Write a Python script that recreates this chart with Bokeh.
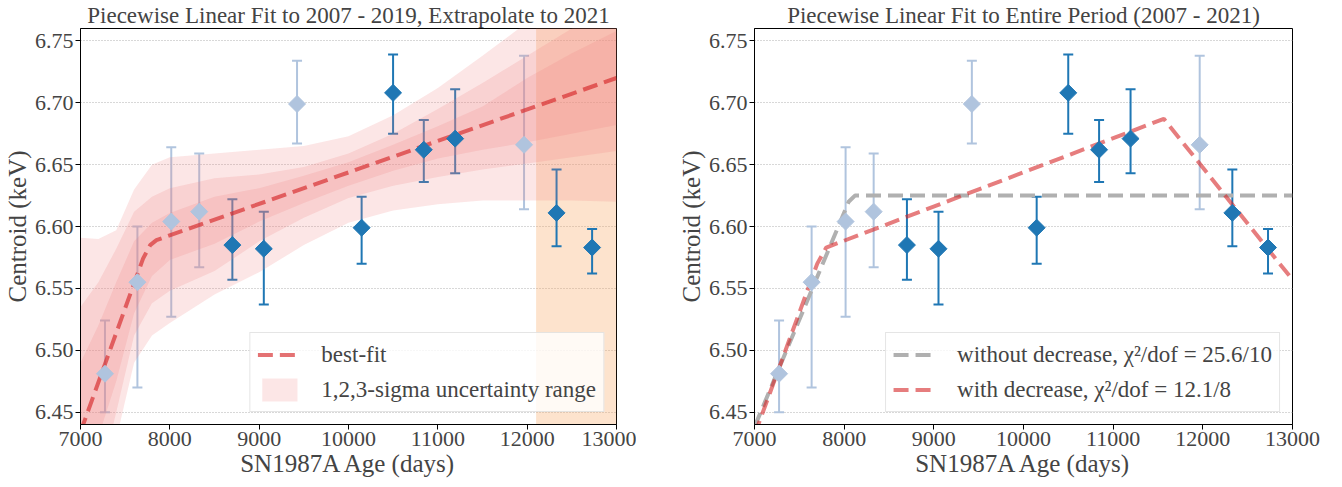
import numpy as np
from bokeh.plotting import figure
from bokeh.layouts import row
from bokeh.models import (ColumnDataSource, Whisker, BoxAnnotation, Legend, LegendItem,
                          FixedTicker, Range1d, NumeralTickFormatter, TeeHead)
from bokeh.embed import file_html
from bokeh.resources import INLINE

# ---------------- data ----------------
dark_age = [8700, 9052, 10147, 10499, 10843, 11194, 12329, 12727]
dark_cen = [6.585, 6.582, 6.599, 6.708, 6.662, 6.671, 6.611, 6.583]
dark_lo = [6.557, 6.537, 6.570, 6.675, 6.636, 6.643, 6.584, 6.562]
dark_hi = [6.622, 6.612, 6.624, 6.739, 6.686, 6.711, 6.646, 6.598]

light_age = [7274, 7637, 8016, 8329, 9424, 11965]
light_cen = [6.481, 6.555, 6.604, 6.612, 6.699, 6.666]
light_lo = [6.450, 6.470, 6.527, 6.567, 6.667, 6.614]
light_hi = [6.524, 6.600, 6.664, 6.659, 6.734, 6.738]

# left panel: best fit and 1,2,3-sigma bands
fit_age = [7000, 7700, 7780, 7850, 13000]
fit_cen = [6.434, 6.574, 6.585, 6.589, 6.720]

band_age = [7000, 7200, 7400, 7600, 7800, 8000, 8500, 9000, 9500, 10000, 10500, 11000, 11500, 12000, 12500, 13000]
band_lo3 = [6.29, 6.36, 6.428, 6.490, 6.512, 6.522, 6.545, 6.563, 6.585, 6.603, 6.613, 6.618, 6.621, 6.621, 6.621, 6.620]
band_lo2 = [6.33, 6.39, 6.450, 6.512, 6.538, 6.548, 6.564, 6.588, 6.607, 6.623, 6.633, 6.640, 6.646, 6.651, 6.656, 6.661]
band_lo1 = [6.38, 6.43, 6.475, 6.530, 6.560, 6.573, 6.586, 6.604, 6.619, 6.633, 6.645, 6.655, 6.662, 6.668, 6.675, 6.682]
band_hi1 = [6.49, 6.52, 6.555, 6.588, 6.603, 6.611, 6.624, 6.631, 6.641, 6.652, 6.666, 6.681, 6.697, 6.720, 6.740, 6.758]
band_hi2 = [6.535, 6.555, 6.582, 6.612, 6.624, 6.631, 6.639, 6.642, 6.648, 6.659, 6.675, 6.695, 6.716, 6.738, 6.760, 6.780]
band_hi3 = [6.591, 6.590, 6.597, 6.630, 6.650, 6.656, 6.659, 6.662, 6.665, 6.673, 6.690, 6.712, 6.738, 6.765, 6.790, 6.820]

extrap_start = 12100
extrap_end = 13000

# right panel fits
nodec_age = [7000, 8050, 8120, 13000]
nodec_cen = [6.438, 6.620, 6.625, 6.625]
dec_age = [7000, 7700, 7800, 11565, 13000]
dec_cen = [6.4315, 6.570, 6.583, 6.687, 6.557]

x_ticks = [7000, 8000, 9000, 10000, 11000, 12000, 13000]
y_ticks = [6.45, 6.50, 6.55, 6.60, 6.65, 6.70, 6.75]

FONT = "Liberation Serif"
DARK = "#1f77b4"
LIGHT = "#b0c4de"
H = 479


def make_fig(title, width, bl, br):
    p = figure(width=width, height=H, x_range=Range1d(7000, 13000), y_range=Range1d(6.44, 6.76),
               output_backend="svg", toolbar_location=None, title=title,
               min_border_left=bl, min_border_right=br, min_border_top=26, min_border_bottom=40)
    p.title.text_font = FONT
    p.title.text_font_size = "23px"
    p.title.text_font_style = "normal"
    p.title.align = "center"
    p.title.standoff = 1
    p.xaxis.ticker = FixedTicker(ticks=x_ticks)
    p.yaxis.ticker = FixedTicker(ticks=y_ticks)
    p.yaxis.formatter = NumeralTickFormatter(format="0.00")
    for ax in (p.xaxis, p.yaxis):
        ax.major_label_text_font = FONT
        ax.major_label_text_font_size = "22px"
        ax.axis_label_text_font = FONT
        ax.axis_label_text_font_size = "25px"
        ax.axis_label_text_font_style = "normal"
        ax.major_tick_out = 5
        ax.major_tick_in = 0
        ax.minor_tick_line_color = None
        ax.axis_line_color = "black"
        ax.major_tick_line_color = "black"
        ax.major_label_standoff = 2
        ax.axis_label_standoff = 1
    p.xaxis.axis_label = "SN1987A Age (days)"
    p.yaxis.axis_label = "Centroid (keV)"
    p.xgrid.visible = False
    p.ygrid.grid_line_color = "#b0b0b0"
    p.ygrid.grid_line_dash = "1 2"
    p.ygrid.grid_line_width = 1
    p.outline_line_color = "black"
    p.outline_line_width = 1
    return p


def add_points(p):
    for age, cen, lo, hi, col in ((light_age, light_cen, light_lo, light_hi, LIGHT),
                                  (dark_age, dark_cen, dark_lo, dark_hi, DARK)):
        src = ColumnDataSource(dict(x=age, y=cen, lo=lo, hi=hi))
        w = Whisker(source=src, base="x", lower="lo", upper="hi", line_color=col, line_width=2,
                    upper_head=TeeHead(size=10, line_color=col, line_width=2),
                    lower_head=TeeHead(size=10, line_color=col, line_width=2))
        p.add_layout(w)
        p.scatter("x", "y", source=src, marker="square", angle=np.pi / 4, size=12,
                  fill_color=col, line_color=col)


def style_legend(lg):
    lg.label_text_font = FONT
    lg.label_text_font_size = "23px"
    lg.glyph_width = 44
    lg.glyph_height = 29
    lg.label_height = 29
    lg.label_standoff = 20
    lg.spacing = 6
    lg.padding = 7
    lg.margin = 12
    lg.border_line_color = "#cccccc"
    lg.background_fill_alpha = 0.8
    lg.location = "bottom_right"


# ---------------- left panel ----------------
p1 = make_fig("Piecewise Linear Fit to 2007 - 2019, Extrapolate to 2021", 636, 78, 20)
bsrc = ColumnDataSource(dict(x=band_age, lo3=band_lo3, hi3=band_hi3, lo2=band_lo2,
                             hi2=band_hi2, lo1=band_lo1, hi1=band_hi1))
b3 = p1.varea(x="x", y1="lo3", y2="hi3", source=bsrc, fill_color="lightcoral", fill_alpha=0.2)
p1.varea(x="x", y1="lo2", y2="hi2", source=bsrc, fill_color="lightcoral", fill_alpha=0.2)
p1.varea(x="x", y1="lo1", y2="hi1", source=bsrc, fill_color="lightcoral", fill_alpha=0.2)
p1.add_layout(BoxAnnotation(left=extrap_start, right=extrap_end, fill_color="#f9a35a",
                            fill_alpha=0.3, line_color=None, level="underlay"))
fit_line = p1.line(fit_age, fit_cen, line_color="#d62728", line_alpha=0.65, line_width=4,
                   line_dash="15 7")
add_points(p1)
lg1 = Legend(items=[LegendItem(label="best-fit", renderers=[fit_line]),
                    LegendItem(label="1,2,3-sigma uncertainty range", renderers=[b3])])
style_legend(lg1)
p1.add_layout(lg1)

# ---------------- right panel ----------------
p2 = make_fig("Piecewise Linear Fit to Entire Period (2007 - 2021)", 688, 118, 32)
gl = p2.line(nodec_age, nodec_cen, line_color="#b0b0b0", line_width=4, line_dash="15 7")
rl = p2.line(dec_age, dec_cen, line_color="#d62728", line_alpha=0.6, line_width=4, line_dash="15 7")
add_points(p2)
lg2 = Legend(items=[LegendItem(label="without decrease, \u03c7\u00b2/dof = 25.6/10", renderers=[gl]),
                    LegendItem(label="with decrease, \u03c7\u00b2/dof = 12.1/8", renderers=[rl])])
style_legend(lg2)
p2.add_layout(lg2)

layout = row(p1, p2)
open("out.html", "w").write(file_html(layout, INLINE))
